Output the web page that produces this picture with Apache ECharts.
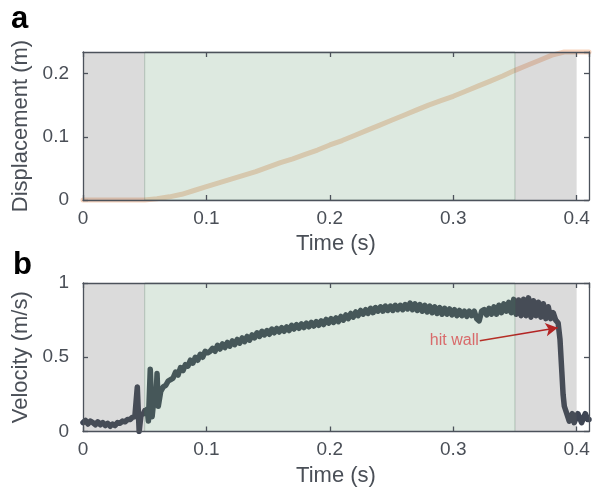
<!DOCTYPE html>
<html><head><meta charset="utf-8">
<script src="https://cdn.jsdelivr.net/npm/echarts@6/dist/echarts.min.js"></script>
<style>html,body{margin:0;padding:0;background:#fff}#c{width:596px;height:494px}</style>
</head><body><div id="c"></div>
<script>
// ---- data ----
const timeD = [0,0.01,0.02,0.03,0.04,0.05,0.06,0.07,0.08,0.09,0.10,0.11,0.12,0.13,0.14,0.15,0.16,0.17,0.18,0.19,0.20,0.21,0.22,0.23,0.24,0.25,0.26,0.27,0.28,0.29,0.30,0.31,0.32,0.33,0.34,0.35,0.36,0.37,0.38,0.39,0.40,0.41];
const displacement = [0,0,0,0,0,0,0.002,0.005,0.009,0.015,0.021,0.027,0.033,0.039,0.045,0.052,0.059,0.065,0.072,0.079,0.087,0.094,0.102,0.110,0.118,0.126,0.134,0.142,0.150,0.157,0.164,0.172,0.180,0.188,0.196,0.205,0.213,0.221,0.229,0.234,0.234,0.234];

const timeV = [0,0.002,0.004,0.006,0.008,0.010,0.012,0.014,0.016,0.018,0.020,0.022,0.024,0.026,0.028,0.030,0.032,0.034,0.036,0.038,0.040,0.042,0.043,0.044,0.0455,0.047,0.049,0.050,0.051,0.052,0.053,0.0545,0.056,0.057,0.058,0.059,0.060,0.061,0.063,0.065,0.067,0.069,0.071,0.073,0.075,0.077,0.079,0.081,0.083,0.085,0.087,0.089,0.091,0.093,0.095,0.097,0.099,0.101,0.103,0.105,0.107,0.109,0.111,0.113,0.115,0.117,0.119,0.121,0.123,0.125,0.127,0.129,0.131,0.133,0.135,0.137,0.139,0.141,0.143,0.145,0.147,0.149,0.151,0.153,0.155,0.157,0.159,0.161,0.163,0.165,0.167,0.169,0.171,0.173,0.175,0.177,0.179,0.181,0.183,0.185,0.187,0.189,0.191,0.193,0.195,0.197,0.199,0.201,0.203,0.205,0.207,0.209,0.211,0.213,0.215,0.217,0.219,0.221,0.223,0.225,0.227,0.229,0.231,0.233,0.235,0.237,0.239,0.241,0.243,0.245,0.247,0.249,0.251,0.253,0.255,0.257,0.259,0.261,0.263,0.265,0.267,0.269,0.271,0.273,0.275,0.277,0.279,0.281,0.283,0.285,0.287,0.289,0.291,0.293,0.295,0.297,0.299,0.301,0.303,0.305,0.307,0.309,0.311,0.313,0.315,0.317,0.319,0.321,0.323,0.325,0.327,0.329,0.331,0.333,0.335,0.337,0.339,0.341,0.343,0.345,0.347,0.349,0.351,0.353,0.355,0.357,0.359,0.361,0.363,0.365,0.367,0.369,0.371,0.373,0.375,0.377,0.379,0.381,0.383,0.385,0.3865,0.388,0.389,0.390,0.392,0.394,0.395,0.3965,0.398,0.3995,0.401,0.4025,0.404,0.4055,0.407,0.409,0.410];
const velocity = [0.06,0.075,0.05,0.07,0.06,0.045,0.065,0.045,0.06,0.04,0.055,0.035,0.05,0.04,0.06,0.055,0.07,0.065,0.08,0.08,0.095,0.10,0.11,0.30,0.0,0.11,0.12,0.14,0.12,0.15,0.07,0.42,0.10,0.18,0.22,0.20,0.39,0.17,0.27,0.30,0.31,0.34,0.35,0.36,0.40,0.38,0.43,0.41,0.45,0.44,0.48,0.46,0.50,0.48,0.52,0.50,0.54,0.53,0.54,0.56,0.54,0.58,0.555,0.59,0.565,0.60,0.575,0.61,0.585,0.62,0.595,0.63,0.605,0.64,0.615,0.65,0.63,0.665,0.64,0.675,0.65,0.68,0.655,0.69,0.665,0.695,0.67,0.70,0.675,0.705,0.68,0.715,0.69,0.72,0.695,0.725,0.70,0.73,0.705,0.735,0.71,0.74,0.715,0.745,0.72,0.755,0.73,0.76,0.735,0.765,0.74,0.775,0.75,0.785,0.76,0.795,0.77,0.805,0.78,0.815,0.79,0.82,0.795,0.83,0.80,0.835,0.81,0.84,0.81,0.845,0.815,0.845,0.815,0.85,0.82,0.85,0.82,0.855,0.825,0.865,0.82,0.86,0.815,0.855,0.81,0.85,0.805,0.845,0.80,0.84,0.795,0.835,0.79,0.83,0.79,0.825,0.785,0.82,0.78,0.815,0.78,0.81,0.775,0.81,0.78,0.81,0.76,0.745,0.81,0.82,0.785,0.83,0.79,0.84,0.79,0.85,0.80,0.86,0.81,0.87,0.80,0.89,0.79,0.885,0.78,0.89,0.78,0.90,0.77,0.88,0.78,0.87,0.77,0.86,0.76,0.84,0.76,0.80,0.75,0.73,0.62,0.40,0.25,0.17,0.12,0.07,0.06,0.12,0.06,0.05,0.12,0.13,0.06,0.07,0.12,0.08,0.08];

const xTicks = [0, 0.1, 0.2, 0.3, 0.4];
// [start, end, kind] kind 0 = gray, 1 = green
const regions = [[0, 0.05, 0], [0.35, 0.40, 0], [0.05, 0.35, 1]];
const annotation = {text: 'hit wall', from: [0.3215, 0.611], to: [0.3846, 0.699]};

// ---- styles ----
const AX = '#4c525b';
const TXT = '#4a4f57';
const FONT = 'Liberation Sans';

function pairs(xs, ys){ return xs.map((x,i)=>[x, ys[i]]); }
function fmt(v){ return v === 0 ? '0' : String(Math.round(v*100)/100); }

function xAxes(gi){
  return [{
    type:'value', gridIndex:gi, min:0, max:0.41, interval:0.1, z:10,
    name:'Time (s)', nameLocation:'middle', nameGap:33,
    nameTextStyle:{color:TXT, fontSize:22, fontFamily:FONT},
    axisLine:{show:true, onZero:false, lineStyle:{color:AX, width:1.3}},
    axisTick:{show:true, inside:true, length:5, lineStyle:{color:AX, width:1.3}},
    axisLabel:{color:TXT, fontSize:19, fontFamily:FONT, margin:9, formatter:fmt, showMaxLabel:false},
    splitLine:{show:false}
  },{
    type:'value', gridIndex:gi, position:'top', min:0, max:0.41, interval:0.1, z:10,
    axisLine:{show:true, onZero:false, lineStyle:{color:AX, width:1.3}},
    axisTick:{show:true, inside:true, length:5, lineStyle:{color:AX, width:1.3}},
    axisLabel:{show:false}, splitLine:{show:false}
  }];
}
function yAxes(gi, max, interval, name){
  return [{
    type:'value', gridIndex:gi, min:0, max:max, interval:interval, z:10,
    name:name, nameLocation:'middle', nameGap:40, nameRotate:90,
    nameTextStyle:{color:TXT, fontSize:22, fontFamily:FONT},
    axisLine:{show:true, onZero:false, lineStyle:{color:AX, width:1.3}},
    axisTick:{show:true, inside:true, length:5, lineStyle:{color:AX, width:1.3}},
    axisLabel:{color:TXT, fontSize:19, fontFamily:FONT, margin:14, formatter:fmt, showMaxLabel: max % interval === 0},
    splitLine:{show:false}
  },{
    type:'value', gridIndex:gi, position:'right', min:0, max:max, interval:interval, z:10,
    axisLine:{show:true, onZero:false, lineStyle:{color:AX, width:1.3}},
    axisTick:{show:true, inside:true, length:5, lineStyle:{color:AX, width:1.3}},
    axisLabel:{show:false}, splitLine:{show:false}
  }];
}
function regionSeries(xi, yi, ymax){
  return {
    type:'custom', xAxisIndex:xi, yAxisIndex:yi, silent:true, z:5,
    data: regions, encode:{x:[0,1]},
    renderItem:function(params, api){
      const p0 = api.coord([api.value(0), ymax]);
      const p1 = api.coord([api.value(1), 0]);
      const green = api.value(2) === 1;
      return {
        type:'rect',
        shape:{x:p0[0], y:p0[1], width:p1[0]-p0[0], height:p1[1]-p0[1]},
        style: green
          ? {fill:'rgba(100,155,114,0.22)', stroke:'rgba(70,110,85,0.3)', lineWidth:1}
          : {fill:'rgba(100,100,100,0.23)', stroke:null, lineWidth:0}
      };
    }
  };
}

const chart = echarts.init(document.getElementById('c'), null, {renderer:'canvas'});
chart.setOption({
  animation:false,
  backgroundColor:'#fff',
  grid:[
    {left:83, right:7, top:52, height:148},
    {left:83, right:7, top:283, height:148.5}
  ],
  xAxis:[...xAxes(0), ...xAxes(1)],
  yAxis:[...yAxes(0, 0.234, 0.1, 'Displacement (m)'), ...yAxes(1, 1, 0.5, 'Velocity (m/s)')],
  graphic:[
    {type:'text', left:11, top:4, style:{text:'a', font:'bold 31px "Liberation Sans"', fill:'#000'}},
    {type:'text', left:13, top:250, style:{text:'b', font:'bold 31px "Liberation Sans"', fill:'#000'}}
  ],
  series:[
    {type:'line', xAxisIndex:0, yAxisIndex:0, data:pairs(timeD, displacement), showSymbol:false, symbol:'none',
     clip:false, z:2, lineStyle:{color:'#f7d5bf', width:5, cap:'round', join:'round'}},
    regionSeries(0, 0, 0.234),
    {type:'line', xAxisIndex:2, yAxisIndex:2, data:pairs(timeV, velocity), showSymbol:false, symbol:'none',
     z:2, lineStyle:{color:'#3e4553', width:5.5, cap:'round', join:'round'}},
    regionSeries(2, 2, 1),
    {type:'line', xAxisIndex:2, yAxisIndex:2, data:[[annotation.from[0], annotation.from[1]]], symbol:'none', z:8, silent:true,
     lineStyle:{width:0, opacity:0},
     markLine:{silent:true, symbol:['none','arrow'], symbolSize:[10,12],
       lineStyle:{color:'#cc1111', width:1.6, type:'solid'}, label:{show:false},
       data:[[{coord:annotation.from}, {coord:annotation.to}]]},
     markPoint:{silent:true, symbol:'circle', symbolSize:0,
       data:[{coord:annotation.from, label:{show:true, formatter:annotation.text, position:'left', distance:1,
         color:'#d86a6a', fontSize:16, fontFamily:FONT}}]}
    }
  ]
});
</script></body></html>
